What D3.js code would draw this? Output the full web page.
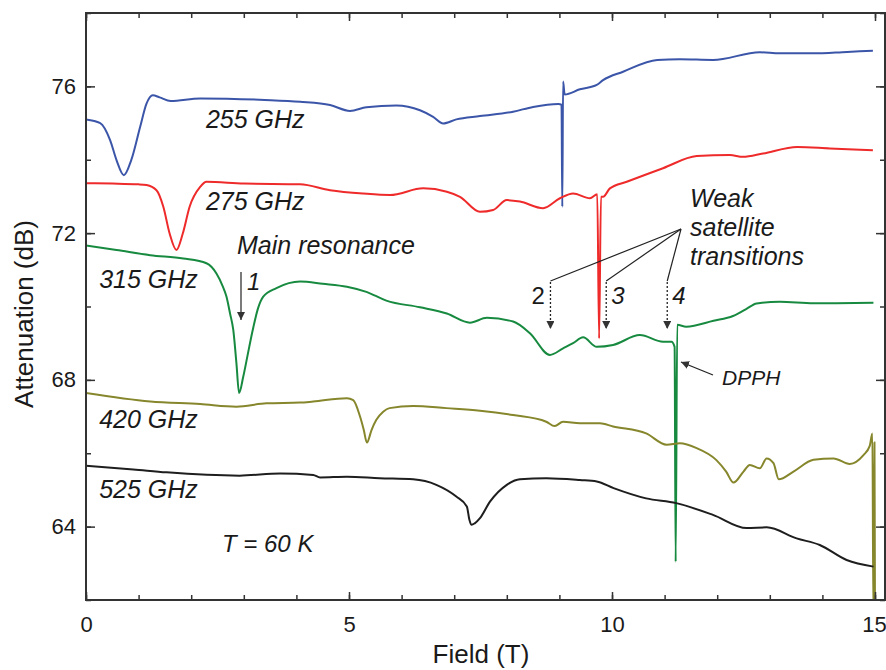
<!DOCTYPE html>
<html><head><meta charset="utf-8">
<script src="https://cdn.jsdelivr.net/npm/d3@7"></script>
<style>
body{margin:0;background:#fff;}
svg{font-family:"Liberation Sans",Arial,Helvetica,sans-serif;}
</style></head><body>
<svg id="c" width="886" height="670"></svg>
<script>
// ---- data (Field in T, Attenuation in dB) ----
const xTicksMajor = [0, 5, 10, 15];
const yTicksMajor = [64, 68, 72, 76];
const seriesNames = ["255 GHz", "275 GHz", "315 GHz", "420 GHz", "525 GHz"];
const seriesColors = ["#3b55a8", "#ee2a2a", "#178a40", "#86862c", "#1e1e1e"];

const s255 = [[0,75.10],[0.27,75.0],[0.46,74.53],[0.58,73.99],[0.72,73.58],[0.86,73.99],[1.03,74.9],[1.15,75.53],[1.27,75.76],[1.4,75.7],[1.61,75.6],[2.17,75.67],[3.4,75.63],[4.07,75.58],[4.64,75.49],[5.02,75.33],[5.33,75.43],[5.9,75.48],[6.35,75.35],[6.6,75.17],[6.79,74.99],[7.04,75.1],[7.49,75.19],[8.12,75.31],[8.5,75.44],[8.98,75.52],[9.04,75.5],[9.055,72.72],[9.07,76.13],[9.1,75.78],[9.39,75.92],[9.71,76.04],[9.83,76.17],[10.21,76.4],[10.86,76.72],[11.29,76.74],[11.92,76.72],[12.81,76.93],[13.19,76.9],[13.82,76.9],[14.47,76.94],[14.96,76.97]];

const s275 = [[0,73.36],[0.5,73.35],[1.0,73.33],[1.15,73.31],[1.34,73.17],[1.47,72.72],[1.59,71.99],[1.72,71.54],[1.84,71.99],[1.97,72.72],[2.17,73.26],[2.29,73.4],[3.0,73.35],[4.07,73.33],[4.64,73.17],[5.27,73.08],[5.78,73.04],[6.41,73.22],[6.86,73.13],[7.11,72.99],[7.49,72.58],[7.74,72.63],[8.0,72.9],[8.25,72.86],[8.69,72.68],[9.01,72.95],[9.26,73.08],[9.58,72.95],[9.72,73.06],[9.755,69.13],[9.79,72.99],[9.83,72.99],[9.96,73.22],[10.28,73.4],[10.97,73.77],[11.61,74.1],[12.24,74.13],[12.49,74.08],[12.87,74.17],[13.52,74.35],[14.14,74.31],[14.96,74.26]];

const s315 = [[0,71.66],[0.58,71.54],[1.22,71.40],[1.85,71.31],[2.29,71.18],[2.48,70.9],[2.6,70.55],[2.67,70.27],[2.74,69.8],[2.8,69.36],[2.86,68.45],[2.91,67.64],[2.99,68.09],[3.08,68.73],[3.17,69.36],[3.27,69.95],[3.37,70.27],[3.62,70.5],[4.07,70.68],[4.5,70.62],[4.96,70.54],[5.33,70.4],[5.71,70.16],[6.35,69.98],[6.86,69.81],[7.3,69.56],[7.62,69.69],[8.12,69.59],[8.44,69.27],[8.82,68.68],[9.07,68.86],[9.26,69.0],[9.45,69.16],[9.71,68.9],[10.02,68.95],[10.53,69.22],[10.97,69.04],[11.13,69.04],[11.19,68.9],[11.21,63.04],[11.24,69.5],[11.41,69.45],[11.93,69.61],[12.3,69.74],[12.55,69.93],[12.75,70.08],[13.19,70.13],[13.83,70.09],[14.97,70.1]];

const s420 = [[0,67.64],[1.22,67.41],[2.17,67.34],[2.86,67.27],[3.43,67.36],[4.07,67.38],[4.32,67.41],[4.96,67.5],[5.08,67.45],[5.21,67.0],[5.28,66.64],[5.34,66.29],[5.43,66.64],[5.52,66.91],[5.65,67.13],[5.77,67.23],[6.22,67.29],[6.85,67.23],[7.49,67.16],[8.12,67.04],[8.75,66.86],[8.91,66.74],[9.07,66.86],[9.39,66.82],[9.77,66.82],[10.02,66.73],[10.65,66.54],[11.04,66.23],[11.29,66.27],[11.61,66.14],[11.98,65.82],[12.17,65.5],[12.31,65.2],[12.5,65.5],[12.62,65.68],[12.81,65.59],[12.94,65.86],[13.07,65.73],[13.17,65.29],[13.45,65.5],[13.83,65.82],[14.21,65.86],[14.52,65.71],[14.78,65.95],[14.9,66.2],[14.95,66.54],[14.97,61.5],[14.99,66.3],[15.0,61.5]];

const s525 = [[0,65.66],[0.9,65.56],[1.53,65.48],[2.92,65.39],[3.69,65.45],[4.32,65.41],[4.45,65.34],[4.96,65.36],[5.58,65.32],[6.22,65.29],[6.66,65.14],[7.04,64.82],[7.24,64.55],[7.29,64.18],[7.33,64.05],[7.39,64.09],[7.49,64.23],[7.68,64.68],[8.0,65.14],[8.25,65.29],[8.75,65.32],[9.39,65.27],[9.71,65.23],[10.03,65.05],[10.65,64.77],[11.22,64.64],[11.92,64.32],[12.56,63.96],[12.94,63.98],[13.51,63.68],[13.95,63.5],[14.46,63.09],[14.97,62.91]];

const allSeries = [s255, s275, s315, s420, s525];

// series label anchor (field, dB) at text baseline-left
const labelPos = [[2.28, 74.86], [2.28, 72.63], [0.25, 70.5], [0.25, 66.69], [0.25, 64.78]];

// satellite transitions: field positions of arrows 2,3,4
const satField = [8.83, 9.89, 11.05];
const satNames = ["2", "3", "4"];

// ---- layout ----
const svg = d3.select("#c");
const L = 86, R = 885, T = 13, B = 600;
const x = d3.scaleLinear().domain([0, 15.19]).range([L, R]);
const y = d3.scaleLinear().domain([62, 78]).range([B, T]);
const axisCol = "#333";
const txtCol = "#1a1a1a";

svg.append("defs").append("clipPath").attr("id", "clip")
  .append("rect").attr("x", L).attr("y", T).attr("width", R - L).attr("height", B - T);

const defs = svg.select("defs");
defs.append("marker").attr("id", "ah").attr("viewBox", "0 0 10 10").attr("refX", 10).attr("refY", 5)
  .attr("markerWidth", 8).attr("markerHeight", 8).attr("markerUnits", "userSpaceOnUse").attr("orient", "auto")
  .append("path").attr("d", "M0,0 L10,5 L0,10 z").attr("fill", "#333");

// curves
const line = d3.line().x(d => x(d[0])).y(d => y(d[1])).curve(d3.curveMonotoneX);
const g = svg.append("g").attr("clip-path", "url(#clip)");
allSeries.forEach((s, i) => {
  g.append("path").datum(s).attr("d", line).attr("fill", "none")
    .attr("stroke", seriesColors[i]).attr("stroke-width", 2).attr("stroke-linejoin", "round");
});

// axes
const minorX = d3.range(0, 16, 1);
const minorY = d3.range(62, 79, 2);
function styleAxis(sel) {
  sel.select(".domain").remove();
  sel.selectAll("line").attr("stroke", axisCol).attr("stroke-width", 1.5);
  sel.selectAll("text").attr("fill", txtCol).style("font-size", "22px");
}
svg.append("g").attr("transform", `translate(0,${B})`)
  .call(d3.axisBottom(x).tickValues(minorX).tickSize(-5).tickFormat("")).call(styleAxis);
const xb = svg.append("g").attr("transform", `translate(0,${B})`)
  .call(d3.axisBottom(x).tickValues(xTicksMajor).tickSize(-8).tickPadding(16).tickFormat(d3.format("d"))).call(styleAxis);
xb.selectAll("text").filter(d => d === 15).attr("dx", -1);
svg.append("g").attr("transform", `translate(0,${T})`)
  .call(d3.axisTop(x).tickValues(minorX).tickSize(-5).tickFormat("")).call(styleAxis);
svg.append("g").attr("transform", `translate(0,${T})`)
  .call(d3.axisTop(x).tickValues(xTicksMajor).tickSize(-8).tickFormat("")).call(styleAxis);
svg.append("g").attr("transform", `translate(${L},0)`)
  .call(d3.axisLeft(y).tickValues(minorY).tickSize(-5).tickFormat("")).call(styleAxis);
svg.append("g").attr("transform", `translate(${L},0)`)
  .call(d3.axisLeft(y).tickValues(yTicksMajor).tickSize(-9).tickPadding(10).tickFormat(d3.format("d"))).call(styleAxis);
svg.append("g").attr("transform", `translate(${R},0)`)
  .call(d3.axisRight(y).tickValues(minorY).tickSize(-5).tickFormat("")).call(styleAxis);
svg.append("g").attr("transform", `translate(${R},0)`)
  .call(d3.axisRight(y).tickValues(yTicksMajor).tickSize(-9).tickFormat("")).call(styleAxis);

svg.append("rect").attr("x", L).attr("y", T).attr("width", R - L).attr("height", B - T)
  .attr("fill", "none").attr("stroke", axisCol).attr("stroke-width", 2);

// axis titles
svg.append("text").attr("x", 481).attr("y", 663).attr("text-anchor", "middle")
  .attr("fill", txtCol).style("font-size", "26px").text("Field (T)");
svg.append("text").attr("transform", "translate(33,314) rotate(-90)").attr("text-anchor", "middle")
  .attr("fill", txtCol).style("font-size", "26px").text("Attenuation (dB)");

// series labels
const it = (xx, yy, t, size) => svg.append("text").attr("x", xx).attr("y", yy)
  .attr("fill", txtCol).style("font-size", (size || 25) + "px").style("font-style", "italic").text(t);
seriesNames.forEach((n, i) => it(x(labelPos[i][0]), y(labelPos[i][1]), n));

it(222, 552, "T = 60 K", 24);
it(237, 254, "Main resonance");
it(247, 290, "1", 24);
svg.append("line").attr("x1", 241).attr("y1", 272).attr("x2", 241).attr("y2", 320)
  .attr("stroke", "#333").attr("stroke-width", 1.3).attr("marker-end", "url(#ah)");

// weak satellite transitions
it(690, 207, "Weak");
it(690, 236, "satellite");
it(690, 265, "transitions");
const conv = [681, 229];
satField.forEach((f, i) => {
  const px = x(f);
  svg.append("line").attr("x1", conv[0]).attr("y1", conv[1]).attr("x2", px).attr("y2", 281)
    .attr("stroke", "#222").attr("stroke-width", 1.2);
  svg.append("line").attr("x1", px).attr("y1", 282).attr("x2", px).attr("y2", 329)
    .attr("stroke", "#222").attr("stroke-width", 1.3).attr("stroke-dasharray", "2,2")
    .attr("marker-end", "url(#ah)");
  const lab = svg.append("text").attr("y", 304).attr("fill", txtCol).style("font-size", "24px").text(satNames[i]);
  if (i === 0) lab.attr("x", px - 19);
  else lab.attr("x", px + 5).style("font-style", "italic");
});

// DPPH
it(722, 385, "DPPH", 21);
svg.append("line").attr("x1", 713).attr("y1", 375).attr("x2", 681).attr("y2", 362)
  .attr("stroke", "#222").attr("stroke-width", 1.3).attr("marker-end", "url(#ah)");
</script>
</body></html>
